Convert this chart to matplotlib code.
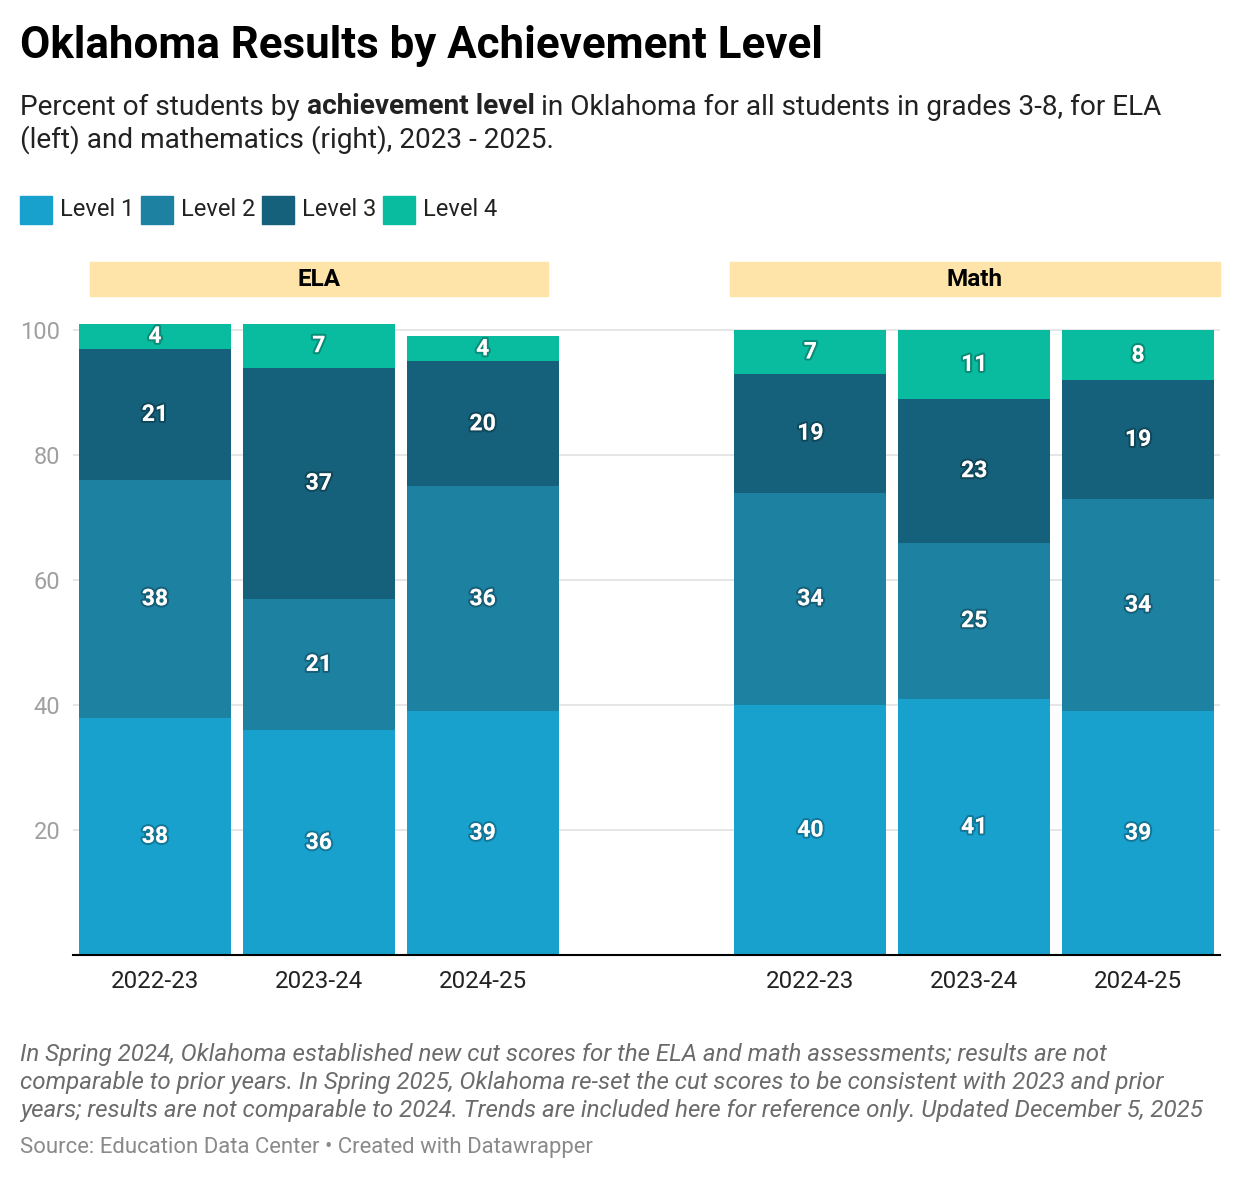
import matplotlib
matplotlib.use("Agg")
import matplotlib.pyplot as plt
import matplotlib.patheffects as pe
from matplotlib.patches import Rectangle

plt.rcParams["font.family"] = ["Roboto", "DejaVu Sans"]

SUBJECTS = ["ELA", "Math"]
YEARS = ["2022-23", "2023-24", "2024-25"]
LEVELS = ["Level 1", "Level 2", "Level 3", "Level 4"]
COLORS = ["#18a1cd", "#1d81a2", "#15607a", "#09bb9f"]

# percent of students per level, one list per year
ELA = [
    [38, 38, 21, 4],
    [36, 21, 37, 7],
    [39, 36, 20, 4],
]
MATH = [
    [40, 34, 19, 7],
    [41, 25, 23, 11],
    [39, 34, 19, 8],
]

W, H = 1240, 1180


def fx(px):
    return px / W


def fy(py):
    return 1 - py / H


fig = plt.figure(figsize=(W / 100, H / 100), dpi=100)

# title and subtitle
fig.text(fx(20), fy(46), "Oklahoma Results by Achievement Level", fontsize=31.6,
         fontweight="bold", va="center", ha="left", color="#000000")

renderer = fig.canvas.get_renderer()
parts = [("Percent of students by ", "normal"), ("achievement level", "bold"),
         (" in Oklahoma for all students in grades 3-8, for ELA", "normal")]
x = fx(20)
for txt, weight in parts:
    t = fig.text(x, fy(107), txt, fontsize=20.15, fontweight=weight, va="center",
                 ha="left", color="#222222")
    bb = t.get_window_extent(renderer=renderer)
    x += bb.width / W
fig.text(fx(20), fy(140), "(left) and mathematics (right), 2023 - 2025.", fontsize=20.15,
         va="center", ha="left", color="#222222")

# legend
leg_x = [20, 141, 262, 383]
for lx, name, col in zip(leg_x, LEVELS, COLORS):
    fig.patches.append(Rectangle((fx(lx), fy(224)), fx(32), 28 / H, color=col,
                                 transform=fig.transFigure, figure=fig))
    fig.text(fx(lx + 40), fy(210), name, fontsize=17, va="center", ha="left",
             color="#222222")

# main axes
ax = fig.add_axes([fx(73), fy(955), fx(1220 - 73), 650 / H])
positions = [0, 1, 2, 4, 5, 6]
data = ELA + MATH
labels = YEARS + YEARS

for pos, vals in zip(positions, data):
    bottom = 0
    for v, col in zip(vals, COLORS):
        ax.bar(pos, v, bottom=bottom, width=0.927, color=col, linewidth=0, zorder=2)
        ax.text(pos, bottom + v / 2, str(v), ha="center", va="center", fontsize=16.5,
                fontweight="bold", color="white", zorder=3,
                path_effects=[pe.withStroke(linewidth=3, foreground=(0, 0, 0, 0.25))])
        bottom += v

ax.set_xlim(-0.5, 6.5)
ax.set_ylim(0, 104)
ax.set_yticks([20, 40, 60, 80, 100])
ax.set_xticks(positions)
ax.set_xticklabels(labels)
ax.tick_params(axis="y", length=0, pad=9, labelsize=17, labelcolor="#a0a0a0")
ax.tick_params(axis="x", length=0, pad=11, labelsize=17.4, labelcolor="#222222")
ax.grid(axis="y", color="#e6e6e6", linewidth=1.4, zorder=0)
ax.set_axisbelow(True)
for side in ["top", "right", "left"]:
    ax.spines[side].set_visible(False)
ax.spines["bottom"].set_color("#000000")
ax.spines["bottom"].set_linewidth(1.5)
ax.spines["bottom"].set_zorder(4)

# panel headers
headers = [(90, 548), (730, 1220)]
for (x0, x1), name in zip(headers, SUBJECTS):
    fig.patches.append(Rectangle((fx(x0), fy(296)), fx(x1 - x0), 34 / H, color="#fee4a8",
                                 transform=fig.transFigure, figure=fig))
    fig.text(fx((x0 + x1) / 2), fy(279), name, fontsize=17.5, fontweight="bold",
             ha="center", va="center", color="#000000")

# notes
notes = [
    "In Spring 2024, Oklahoma established new cut scores for the ELA and math assessments; results are not",
    "comparable to prior years. In Spring 2025, Oklahoma re-set the cut scores to be consistent with 2023 and prior",
    "years; results are not comparable to 2024. Trends are included here for reference only. Updated December 5, 2025",
]
for i, line in enumerate(notes):
    fig.text(fx(20), fy(1054 + 28 * i), line, fontsize=17.4, style="italic",
             va="center", ha="left", color="#6b6b6b")
fig.text(fx(20), fy(1147), "Source: Education Data Center \u2022 Created with Datawrapper",
         fontsize=15.9, va="center", ha="left", color="#8a8a8a")

fig.savefig("out.png", dpi=100, facecolor="white")
